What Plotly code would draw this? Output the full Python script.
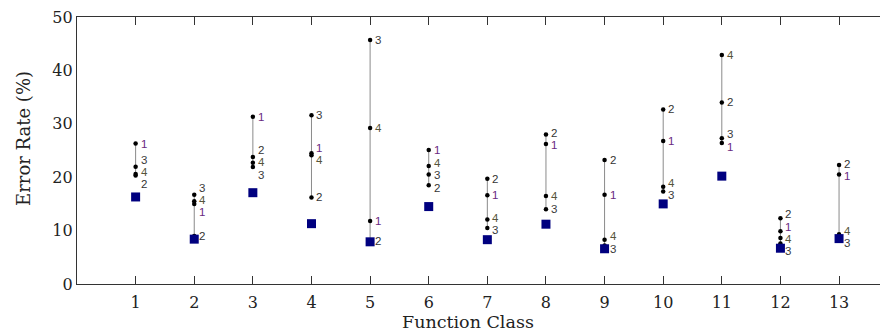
import plotly.graph_objects as go

classes = list(range(1, 14))
method1 = [26.3, 15.0, 31.3, 24.5, 11.8, 25.1, 16.6, 26.2, 16.7, 26.8, 26.4, 9.9, 20.5]
method2 = [20.3, 9.0, 23.8, 16.2, 8.0, 18.5, 19.7, 28.0, 23.2, 32.7, 34.0, 12.3, 22.3]
method3 = [21.95, 16.7, 21.9, 31.6, 45.7, 20.5, 10.5, 14.0, 7.2, 17.3, 27.3, 7.6, 8.4]
method4 = [20.6, 15.5, 22.7, 24.1, 29.2, 22.1, 12.1, 16.5, 8.3, 18.2, 42.9, 8.6, 9.3]
best = [16.3, 8.4, 17.1, 11.3, 7.9, 14.5, 8.3, 11.2, 6.6, 15.0, 20.2, 6.7, 8.5]
method_names = ["1", "2", "3", "4"]
label_colors = ["#6a2a80", "#333333", "#3a3a3a", "#55553a"]
y_ticks = [0, 10, 20, 30, 40, 50]

methods = [method1, method2, method3, method4]

# vertical range lines
lx, ly = [], []
for i, c in enumerate(classes):
    vals = [m[i] for m in methods]
    lx += [c, c, None]
    ly += [min(vals), max(vals), None]

px, py = [], []
for m in methods:
    px += classes
    py += m

fig = go.Figure()
fig.add_trace(go.Scatter(x=lx, y=ly, mode="lines",
                         line=dict(color="#8a8a8a", width=1), hoverinfo="skip", showlegend=False))
fig.add_trace(go.Scatter(x=px, y=py, mode="markers",
                         marker=dict(color="black", size=4.5), showlegend=False))
fig.add_trace(go.Scatter(x=classes, y=best, mode="markers",
                         marker=dict(color="#00007f", size=9, symbol="square"), showlegend=False))


def place_labels(vals, gap):
    order = sorted(range(len(vals)), key=lambda k: -vals[k])
    clusters = [[k] for k in order]

    def center(cl):
        return sum(vals[k] for k in cl) / len(cl)

    changed = True
    while changed:
        changed = False
        for j in range(len(clusters) - 1):
            a, b = clusters[j], clusters[j + 1]
            a_bottom = center(a) - (len(a) - 1) * gap / 2
            b_top = center(b) + (len(b) - 1) * gap / 2
            if a_bottom - b_top < gap:
                clusters[j] = a + b
                del clusters[j + 1]
                changed = True
                break
    pos = {}
    for cl in clusters:
        c = center(cl)
        top = c + (len(cl) - 1) * gap / 2
        for n, k in enumerate(cl):
            pos[k] = top - n * gap
    return pos


annotations = []
for i, c in enumerate(classes):
    vals = [m[i] for m in methods]
    pos = place_labels(vals, 2.3)
    for k in range(4):
        annotations.append(dict(x=c, y=pos[k], xref="x", yref="y", text=method_names[k],
                                showarrow=False, xanchor="left", yanchor="middle", xshift=4,
                                borderpad=0,
                                font=dict(family="Liberation Sans", size=11.5, color=label_colors[k])))

annotations.append(dict(x=0.482, y=0, xref="paper", yref="paper", yshift=-38,
                        text="Function Class", showarrow=False, xanchor="center", yanchor="middle",
                        borderpad=0,
                        font=dict(family="DejaVu Serif", size=17.5, color="#222")))
annotations.append(dict(x=-0.066, y=0.545, xref="paper", yref="paper", textangle=-90,
                        text="Error Rate (%)", showarrow=False, xanchor="center", yanchor="middle",
                        font=dict(family="DejaVu Serif", size=18, color="#222")))

shapes = []
for v in y_ticks[1:-1]:
    shapes.append(dict(type="line", xref="paper", yref="y", x0=0.996, x1=1.0, y0=v, y1=v,
                       line=dict(color="#333", width=1)))

# the page body keeps its default 8px margin, so the figure is 8px smaller each way
fig.update_layout(
    width=880, height=326,
    margin=dict(l=69, r=0, t=0, b=50),
    paper_bgcolor="white", plot_bgcolor="white",
    annotations=annotations, shapes=shapes,
    showlegend=False,
)
fig.update_xaxes(range=[0, 13.835], tickmode="array", tickvals=classes,
                 ticktext=[str(c) for c in classes],
                 ticks="inside", ticklen=8, tickcolor="#333", mirror="ticks",
                 showline=True, linecolor="#333", linewidth=1.3, showgrid=False, zeroline=False,
                 ticklabelstandoff=4,
                 tickfont=dict(family="DejaVu Serif", size=16, color="#222"))
fig.update_yaxes(range=[0, 50], tickmode="array", tickvals=y_ticks,
                 ticks="", showline=True, linecolor="#333", linewidth=1.3,
                 showgrid=False, zeroline=False, ticklabeloverflow="allow",
                 tickfont=dict(family="DejaVu Serif", size=16, color="#222"))

fig.write_html("out.html")
